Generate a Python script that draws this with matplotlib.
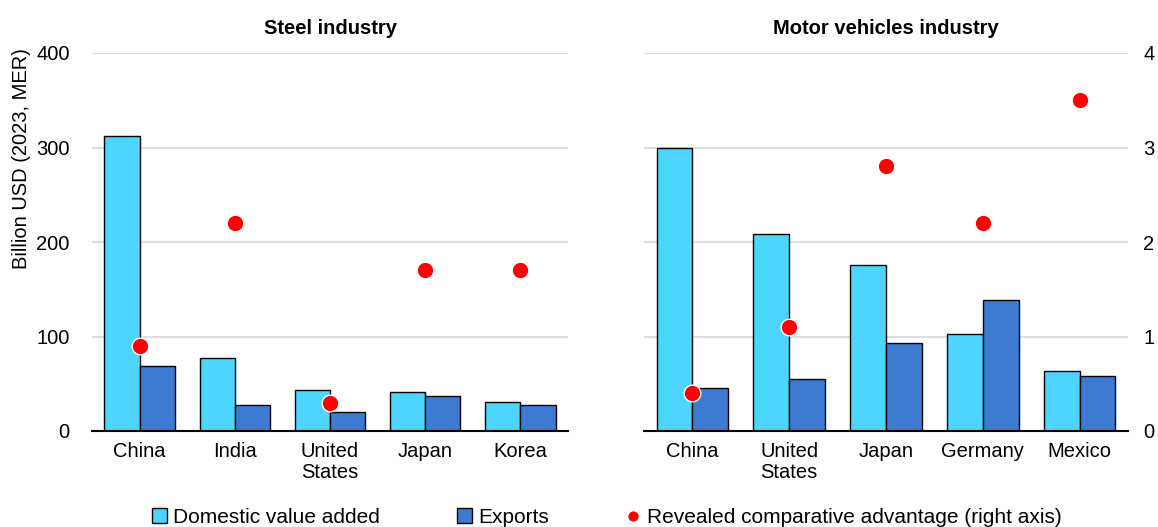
import matplotlib.pyplot as plt
import numpy as np

plt.rcParams["font.family"] = ["Liberation Sans", "DejaVu Sans"]

# Steel industry
steel_countries = ["China", "India", "United\nStates", "Japan", "Korea"]
steel_domestic = [312, 77, 43, 41, 31]
steel_exports = [69, 28, 20, 37, 28]
steel_rca = [0.90, 2.20, 0.30, 1.70, 1.70]

# Motor vehicles industry
motor_countries = ["China", "United\nStates", "Japan", "Germany", "Mexico"]
motor_domestic = [300, 208, 176, 103, 64]
motor_exports = [45, 55, 93, 139, 58]
motor_rca = [0.40, 1.10, 2.80, 2.20, 3.50]

left_ticks = [0, 100, 200, 300, 400]
right_ticks = [0, 1, 2, 3, 4]

c_dom = "#4DD5FF"
c_exp = "#3F7AD2"
c_dot = "#FF0000"
bw = 0.37
fs = 14.5

fig = plt.figure(figsize=(11.58, 5.27), dpi=100)
ax1 = fig.add_axes([92 / 1158, 96 / 527, 476 / 1158, 378 / 527])
ax2 = fig.add_axes([644 / 1158, 96 / 527, 484 / 1158, 378 / 527])


def draw_panel(ax, countries, dom, exp, rca, title, show_left, show_right):
    x = np.arange(len(countries))
    b1 = ax.bar(x - bw / 2, dom, bw, color=c_dom, edgecolor="black", linewidth=1, zorder=2,
                label="Domestic value added")
    b2 = ax.bar(x + bw / 2, exp, bw, color=c_exp, edgecolor="black", linewidth=1, zorder=2,
                label="Exports")
    ax.set_xlim(-0.5, len(countries) - 0.5)
    ax.set_ylim(0, 400)
    ax.set_yticks(left_ticks)
    ax.yaxis.grid(True, color="#DDDDDD", linewidth=1.5, zorder=0)
    ax.set_axisbelow(True)
    for s in ["top", "left", "right"]:
        ax.spines[s].set_visible(False)
    ax.spines["bottom"].set_linewidth(1.5)
    ax.spines["bottom"].set_zorder(3)
    ax.set_xticks(x)
    ax.set_xticklabels(countries, fontsize=fs, linespacing=1.15)
    ax.tick_params(axis="both", length=0, pad=8)
    ax.tick_params(axis="y", pad=16)
    if show_left:
        ax.set_yticklabels([str(t) for t in left_ticks], fontsize=fs)
    else:
        ax.set_yticklabels([])
    ax.set_title(title, fontsize=14.5, fontweight="bold", pad=14)

    tw = ax.twinx()
    tw.set_ylim(0, 4)
    tw.set_yticks(right_ticks)
    for s in ["top", "left", "right", "bottom"]:
        tw.spines[s].set_visible(False)
    tw.tick_params(axis="y", length=0, pad=11)
    if show_right:
        tw.set_yticklabels([str(t) for t in right_ticks], fontsize=fs)
    else:
        tw.set_yticklabels([])
    d = tw.plot(x, rca, "o", color=c_dot, markersize=12, markeredgecolor="white",
                markeredgewidth=1, linestyle="none",
                label="Revealed comparative advantage (right axis)")
    return b1, b2, d[0]


draw_panel(ax1, steel_countries, steel_domestic, steel_exports, steel_rca,
           "Steel industry", True, False)
h1, h2, h3 = draw_panel(ax2, motor_countries, motor_domestic, motor_exports, motor_rca,
                        "Motor vehicles industry", False, True)

ax1.set_ylabel("Billion USD (2023, MER)", fontsize=14.5)
ax1.yaxis.set_label_coords(-0.128, 0.72)

leg = fig.legend([h1, h2, h3],
                 ["Domestic value added", "Exports", "Revealed comparative advantage (right axis)"],
                 loc="center", bbox_to_anchor=(0.524, 0.018), ncol=3, frameon=False,
                 fontsize=15, handlelength=0.7, handleheight=0.7, handletextpad=0.3,
                 columnspacing=3.7, markerscale=0.7)

fig.savefig("out.png", dpi=100)
